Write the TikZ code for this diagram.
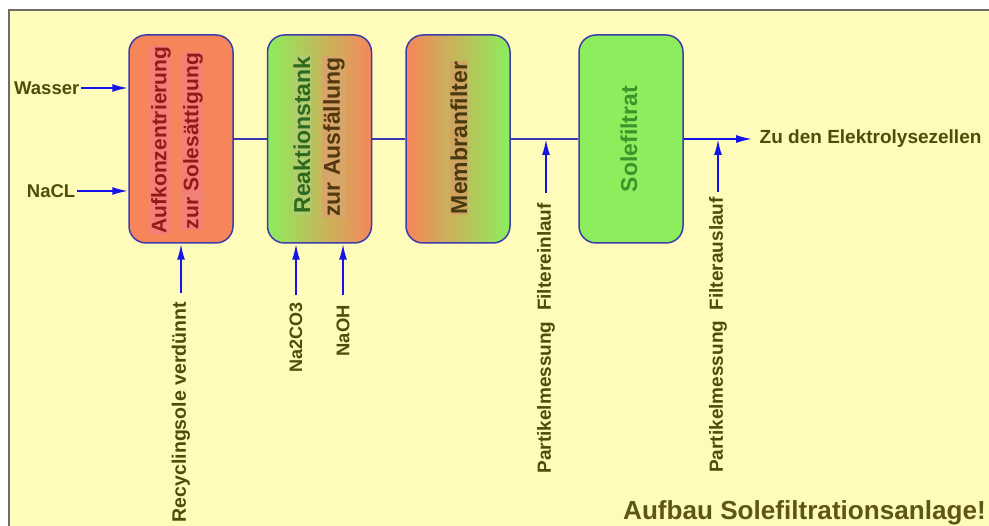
\documentclass[tikz,border=0pt]{standalone}
\usepackage{fontspec}
\setmainfont{Liberation Sans}
\usetikzlibrary{arrows.meta}
\definecolor{bgyel}{RGB}{255,251,187}
\definecolor{framegray}{RGB}{110,110,100}
\definecolor{olivetxt}{RGB}{78,78,8}
\definecolor{titletxt}{RGB}{92,88,18}
\definecolor{arrblue}{RGB}{20,20,230}
\definecolor{connblue}{RGB}{55,55,180}
\definecolor{boxedge}{RGB}{60,60,170}
\definecolor{salmon}{RGB}{246,134,90}
\definecolor{pinkband}{RGB}{241,128,118}
\definecolor{lgreen}{RGB}{140,238,92}
\definecolor{redtxt}{RGB}{150,25,25}
\definecolor{greentxt}{RGB}{45,105,30}
\definecolor{browntxt}{RGB}{85,55,15}
\definecolor{membtxt}{RGB}{72,58,14}
\definecolor{soletxt}{RGB}{58,150,42}
\definecolor{greyband}{RGB}{178,204,112}
\definecolor{tanband}{RGB}{214,166,104}
\definecolor{tanband2}{RGB}{206,164,96}
\tikzset{
  x=1pt, y=-1pt,
  box/.style={draw=boxedge, line width=1.5pt, rounded corners=17pt,
    minimum width=104pt, minimum height=208pt, inner sep=0pt},
  boxtxt/.style={rotate=90, font=\bfseries\fontsize{23}{26}\selectfont, inner sep=1pt},
  lab/.style={text=olivetxt, font=\bfseries\fontsize{19}{22}\selectfont, inner sep=1.5pt},
  vlab/.style={lab, rotate=90, anchor=east, inner sep=0pt},
  arr/.style={draw=arrblue, line width=2pt, -{Latex[length=16pt,width=8pt]}},
  conn/.style={draw=connblue, line width=1.6pt}
}
\begin{document}
\begin{tikzpicture}
\useasboundingbox (0,0) rectangle (989,526);
\fill[white] (0,0) rectangle (989,526);
\fill[bgyel] (9,10) rectangle (989,526);
\draw[framegray, line width=2pt] (989,10) -- (9,10) -- (9,526);

% boxes
\node[box, fill=salmon] (b1) at (181,139) {};
\node[box, left color=lgreen, right color=salmon] (b2) at (319.5,139) {};
\node[box, left color=salmon, right color=lgreen] (b3) at (458,139) {};
\node[box, fill=lgreen] (b4) at (631,139) {};

% box texts
\node[boxtxt, font=\bfseries\fontsize{21}{24}\selectfont, text=redtxt, fill=pinkband] (t1a) at (161,140) {Aufkonzentrierung};
\node[boxtxt, font=\bfseries\fontsize{21}{24}\selectfont, text=redtxt, fill=pinkband] (t1b) at (193,141) {zur Solesättigung};
\node[boxtxt, text=greentxt, fill=greyband] (t2a) at (302,135) {Reaktionstank};
\node[boxtxt, text=browntxt, fill=tanband] (t2b) at (334,137) {zur Ausfällung};
\node[boxtxt, text=membtxt, fill=tanband2] (t3) at (459,138) {Membranfilter};
\node[boxtxt, text=soletxt] (t4) at (629,139) {Solefiltrat};

% main line
\draw[conn] (b1.east) -- (b2.west);
\draw[conn] (b2.east) -- (b3.west);
\draw[conn] (b3.east) -- (b4.west);
\coordinate (outp) at (752,139);
\draw[conn, draw=arrblue, -{Latex[length=16pt,width=8pt]}] (b4.east) -- (outp);
\node[lab, anchor=west] (zu) at (758,139) {Zu den Elektrolysezellen};

% left inputs
\node[lab, anchor=east, font=\bfseries\fontsize{18.5}{22}\selectfont] (wasser) at (81,88) {Wasser};
\draw[arr] (wasser.east) -- (wasser -| b1.west);
\node[lab, anchor=east, font=\bfseries\fontsize{18.5}{22}\selectfont] (nacl) at (77,191) {NaCL};
\draw[arr] (nacl.east) -- (nacl -| b1.west);

% bottom inputs
\node[vlab, font=\bfseries\fontsize{19.5}{24}\selectfont] (rec) at (181,302) {Recyclingsole verdünnt};
\draw[arr, shorten <=9pt] (rec.east) -- (rec |- b1.south);
\node[vlab, font=\bfseries\fontsize{18}{22}\selectfont] (na2) at (296,302) {Na2CO3};
\draw[arr, shorten <=7pt] (na2.east) -- (na2 |- b2.south);
\node[vlab, font=\bfseries\fontsize{18.4}{22}\selectfont] (naoh) at (343,305) {NaOH};
\draw[arr, shorten <=10pt] (naoh.east) -- (naoh |- b2.south);

% measurements
\node[vlab] (pe) at (546,203) {Partikelmessung\ \ Filtereinlauf};
\draw[arr, shorten <=10pt] (pe.east) -- (pe |- b3.east);
\node[vlab] (pa) at (718,197) {Partikelmessung\ \ Filterauslauf};
\draw[arr, shorten <=5pt] (pa.east) -- (pa |- b4.east);

% title
\node[anchor=base west, inner sep=0pt, text=titletxt, font=\bfseries\fontsize{26.1}{30}\selectfont] (title) at (623,520) {Aufbau Solefiltrationsanlage!};
\end{tikzpicture}
\end{document}
